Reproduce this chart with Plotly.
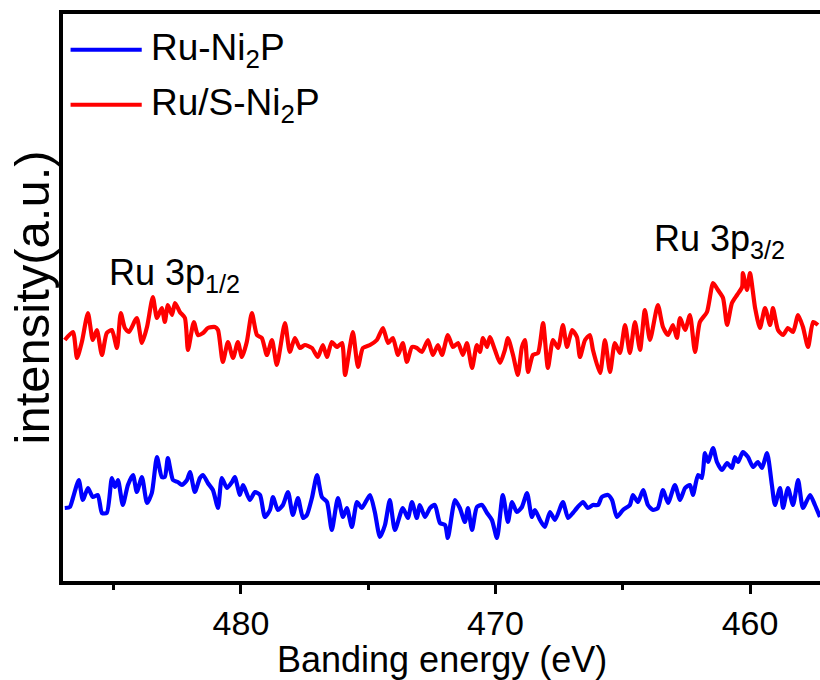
import plotly.graph_objects as go

# ---- data (binding energy in eV, intensity in a.u.) ----
red_energy = [486.92,486.60,486.44,486.25,486.01,485.82,485.66,485.46,485.27,485.07,
484.87,484.72,484.56,484.40,484.09,483.89,483.69,483.46,483.30,483.11,
482.99,482.87,482.71,482.59,482.40,482.20,482.08,481.85,481.69,481.49,
481.30,481.02,480.90,480.71,480.51,480.31,480.12,479.96,479.77,479.57,
479.37,479.18,478.98,478.78,478.59,478.27,478.08,477.88,477.68,477.49,
477.21,476.98,476.78,476.62,476.43,476.23,476.03,475.91,475.72,475.60,
475.40,475.21,474.93,474.66,474.42,474.22,474.03,473.83,473.64,473.48,
473.28,473.09,472.89,472.65,472.46,472.26,
472.10,471.87,471.67,471.47,471.28,471.12,470.92,470.73,470.61,470.49,
470.33,470.22,470.02,469.82,469.63,469.51,469.31,469.12,468.96,468.84,
468.72,468.53,468.33,468.13,467.94,467.74,467.54,467.35,467.19,466.99,
466.80,466.68,466.48,466.29,466.17,465.89,465.70,465.50,465.31,465.11,
464.91,464.72,464.52,464.32,464.13,463.93,463.62,463.42,463.22,463.03,
462.87,462.75,462.55,462.36,462.16,461.97,461.69,461.45,461.26,461.06,
460.90,460.71,460.51,460.31,460.28,460.12,460.00,459.80,459.61,459.41,
459.21,459.10,458.90,458.70,458.51,458.31,458.11,457.92,457.72,457.52,
457.33]
red_intensity = [241,249,223,239,268,241,251,226,248,251,
233,268,253,249,263,238,254,284,263,273,
259,276,266,278,269,263,231,259,246,248,
253,254,251,219,239,223,239,224,239,268,
246,243,226,241,216,258,229,243,233,236,
233,224,236,224,239,234,238,206,234,249,
214,233,236,241,253,238,243,226,238,219,
234,233,229,241,226,236,
226,246,234,238,226,238,213,236,229,243,
234,244,231,218,231,243,226,206,234,241,
209,226,228,258,213,241,233,256,234,251,
244,224,241,246,231,208,241,209,238,228,
256,228,259,231,271,241,276,254,246,256,
243,263,251,266,229,259,269,298,291,283,
256,278,286,294,308,291,308,273,253,273,
256,273,251,246,253,249,266,254,234,259,
256]

blue_energy = [486.92,486.72,486.60,486.37,486.21,486.01,485.82,485.62,485.46,485.27,
485.07,484.95,484.83,484.64,484.44,484.24,484.09,483.89,483.69,483.50,
483.30,483.11,482.99,482.87,482.67,482.48,482.32,482.12,482.00,481.81,
481.61,481.49,481.30,481.10,480.90,480.75,480.55,480.35,480.24,480.04,
479.92,479.65,479.45,479.25,479.06,478.86,478.74,478.55,478.35,478.15,
477.96,477.76,477.56,477.41,477.21,477.01,476.82,476.62,476.43,476.19,
475.99,475.84,475.64,475.44,475.25,474.93,474.74,474.54,474.34,474.15,
473.95,473.64,473.44,473.28,473.09,472.97,472.77,472.57,
472.38,472.18,471.98,471.87,471.59,471.40,471.20,471.08,470.92,470.73,
470.53,470.33,470.14,469.94,469.71,469.51,469.35,469.16,468.96,468.76,
468.57,468.45,468.25,468.06,467.86,467.66,467.35,467.15,466.96,466.80,
466.56,466.37,466.17,465.97,465.82,465.58,465.42,465.23,464.99,464.72,
464.60,464.40,464.20,464.01,463.81,463.62,463.42,463.22,462.95,462.75,
462.55,462.36,462.24,462.04,461.89,461.77,461.65,461.45,461.30,461.10,
460.90,460.71,460.59,460.47,460.28,460.08,459.88,459.69,459.53,459.33,
459.14,459.02,458.82,458.70,458.51,458.31,458.11,457.92,457.64,457.45,
457.25]
blue_intensity = [73,74,83,101,81,93,84,86,68,68,
103,94,101,76,96,106,89,104,78,88,
124,104,104,123,101,99,96,101,109,89,
103,106,98,91,73,103,93,99,104,86,
96,81,89,86,64,71,84,71,76,89,
66,83,63,66,83,106,84,79,51,83,
64,73,54,79,73,86,69,44,56,81,
51,73,63,79,63,76,64,73,
76,58,56,43,81,73,59,73,51,74,
76,68,61,43,86,59,79,69,74,88,
64,71,61,54,69,61,79,63,68,73,
79,73,76,76,84,86,81,64,71,76,
86,79,91,76,71,73,91,78,96,81,
93,96,86,106,103,128,119,133,119,111,
118,113,124,119,129,124,114,119,113,128,
96,76,93,73,93,76,101,73,86,76,
64]

series_names = ["Ru-Ni<sub>2</sub>P", "Ru/S-Ni<sub>2</sub>P"]
series_colors = ["#0000FF", "#FF0000"]
tick_values = [480, 470, 460]
peak_labels = ["Ru 3p<sub>1/2</sub>", "Ru 3p<sub>3/2</sub>"]
peak_positions = [(482.6, 306), (461.2, 340)]
x_range = [486.99, 457.25]
y_range = [0, 567]

FONT = "Arial, Liberation Sans, Helvetica, sans-serif"

fig = go.Figure()
for e, i, name, col in [(blue_energy, blue_intensity, series_names[0], series_colors[0]),
                        (red_energy, red_intensity, series_names[1], series_colors[1])]:
    fig.add_trace(go.Scatter(x=e, y=i, mode="lines", name=name,
                             line=dict(color=col, width=4.2, shape="spline", smoothing=0.6),
                             showlegend=False))

# manual legend (long line samples like the reference)
legend_y = [0.937, 0.840]
for k in range(2):
    fig.add_shape(type="line", xref="paper", yref="paper",
                  x0=0.010, x1=0.104, y0=legend_y[k], y1=legend_y[k],
                  line=dict(color=series_colors[k], width=4))
    fig.add_annotation(xref="paper", yref="paper", x=0.113, y=legend_y[k],
                       text=series_names[k], showarrow=False, xanchor="left",
                       yanchor="middle", font=dict(family=FONT, size=37, color="black"))

for lab, (px, py) in zip(peak_labels, peak_positions):
    fig.add_annotation(x=px, y=py, text=lab, showarrow=False, xanchor="center",
                       yanchor="middle", font=dict(family=FONT, size=36, color="black"))

# axis titles
fig.add_annotation(xref="paper", yref="paper", x=0.5, y=0, yshift=-78,
                   text="Banding energy (eV)", showarrow=False, xanchor="center",
                   yanchor="middle", font=dict(family=FONT, size=36, color="black"))
fig.add_annotation(xref="paper", yref="paper", x=0, y=0.5, xshift=-32,
                   text="intensity(a.u.)", showarrow=False, textangle=-90,
                   xanchor="center", yanchor="middle",
                   font=dict(family=FONT, size=49, color="black"))

fig.update_xaxes(range=x_range, tickvals=tick_values, ticks="outside", ticklen=9,
                 tickwidth=3, tickcolor="black", showline=True, linewidth=4,
                 linecolor="black", mirror=True, showgrid=False, zeroline=False,
                 tickfont=dict(family=FONT, size=34, color="black"),
                 minor=dict(tickvals=[485, 475, 465], ticks="outside", ticklen=5,
                            tickwidth=3, tickcolor="black", showgrid=False))
fig.update_yaxes(range=y_range, showticklabels=False, ticks="", showline=True,
                 linewidth=4, linecolor="black", mirror=False, showgrid=False,
                 zeroline=False)

fig.update_layout(width=820, height=680, plot_bgcolor="white", paper_bgcolor="white",
                  margin=dict(l=63, r=0, t=14, b=99), showlegend=False)

fig.write_html("out.html")
